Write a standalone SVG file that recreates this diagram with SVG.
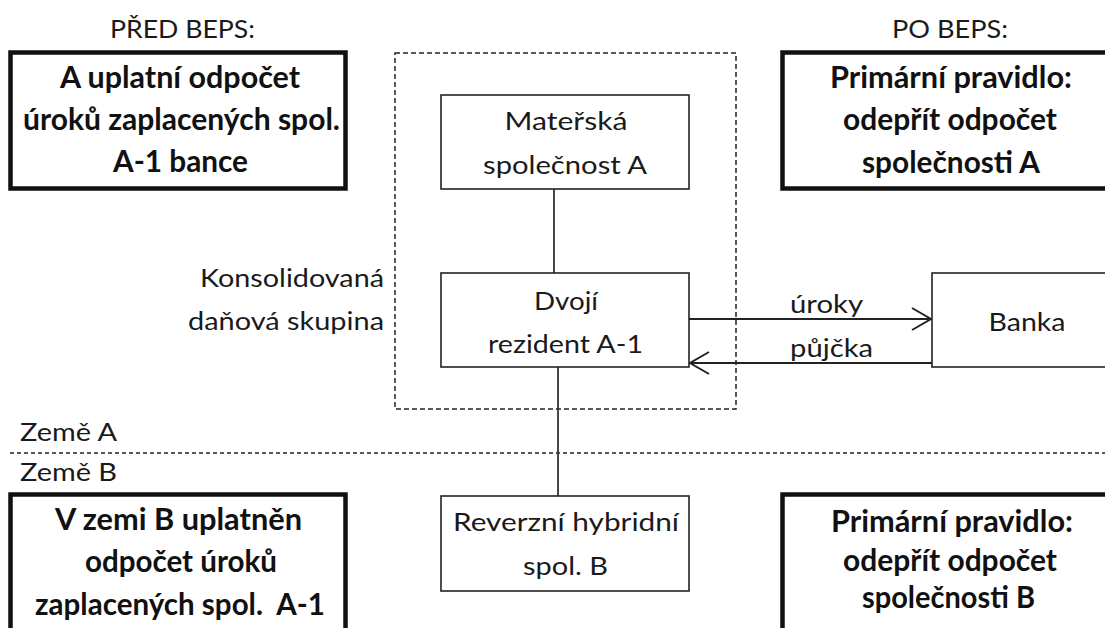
<svg xmlns="http://www.w3.org/2000/svg" width="1105" height="628" viewBox="0 0 1105 628">
  <style>
    .bg { fill: #ffffff; }
    .thick { fill: #ffffff; stroke: #111111; stroke-width: 4.5; }
    .box { fill: #ffffff; stroke: #222222; stroke-width: 1.6; }
    .group { fill: none; stroke: #222222; stroke-width: 1.5; stroke-dasharray: 5 3; }
    .border { fill: none; stroke: #222222; stroke-width: 1.5; stroke-dasharray: 4 3; }
    .link { fill: none; stroke: #333333; stroke-width: 1.8; }
    .arrow { fill: none; stroke: #222222; stroke-width: 1.8; }
    text { font-family: Lato, "Open Sans", "Liberation Sans", sans-serif; fill: #1a1a1a; }
    .r { font-size: 24.5px; font-weight: normal; }
    .b { font-size: 30px; font-weight: bold; fill: #111111; }
    .m { text-anchor: middle; }
    .e { text-anchor: end; }
  </style>
  <defs>
    <marker id="open" viewBox="-22 -14 25 28" refX="0" refY="0" markerWidth="25" markerHeight="28" markerUnits="userSpaceOnUse" orient="auto">
      <path d="M-19,-11 L0,0 L-19,11" fill="none" stroke="#222222" stroke-width="2"/>
    </marker>
  </defs>

  <rect class="bg" x="0" y="0" width="1105" height="628"/>

  <!-- column headings -->
  <text class="r m" x="182.5" y="38" textLength="145" lengthAdjust="spacingAndGlyphs">PŘED BEPS:</text>
  <text class="r m" x="950" y="38" textLength="116" lengthAdjust="spacingAndGlyphs">PO BEPS:</text>

  <!-- consolidated tax group frame -->
  <g id="consolidated-group">
    <rect class="group" x="395" y="53" width="341" height="356"/>
    <text class="r e" x="384" y="287" textLength="184" lengthAdjust="spacingAndGlyphs">Konsolidovaná</text>
    <text class="r e" x="384" y="330" textLength="196" lengthAdjust="spacingAndGlyphs">daňová skupina</text>
  </g>

  <!-- country border -->
  <g id="country-border">
    <line class="border" x1="10" y1="453" x2="1105" y2="453"/>
    <text class="r" x="20" y="441" textLength="97" lengthAdjust="spacingAndGlyphs">Země A</text>
    <text class="r" x="20" y="481" textLength="97" lengthAdjust="spacingAndGlyphs">Země B</text>
  </g>

  <!-- connectors -->
  <g id="connectors">
    <line class="link" x1="554" y1="189" x2="554" y2="273"/>
    <line class="link" x1="558" y1="367" x2="558" y2="496"/>
    <line class="arrow" x1="689" y1="319" x2="931" y2="319" marker-end="url(#open)"/>
    <line class="arrow" x1="932" y1="363" x2="690" y2="363" marker-end="url(#open)"/>
    <text class="r" x="790" y="313" textLength="73" lengthAdjust="spacingAndGlyphs">úroky</text>
    <text class="r" x="790" y="357" textLength="83" lengthAdjust="spacingAndGlyphs">půjčka</text>
  </g>

  <!-- before BEPS, country A -->
  <g id="before-a">
    <rect class="thick" x="10.5" y="52.5" width="335" height="136"/>
    <text class="b m" x="180" y="88" textLength="240" lengthAdjust="spacingAndGlyphs">A uplatní odpočet</text>
    <text class="b m" x="181.5" y="130" textLength="317" lengthAdjust="spacingAndGlyphs">úroků zaplacených spol.</text>
    <text class="b m" x="180.5" y="172" textLength="135" lengthAdjust="spacingAndGlyphs">A-1 bance</text>
  </g>

  <!-- after BEPS, country A -->
  <g id="after-a">
    <rect class="thick" x="782.5" y="52.5" width="340" height="136"/>
    <text class="b m" x="951" y="88" textLength="242" lengthAdjust="spacingAndGlyphs">Primární pravidlo:</text>
    <text class="b m" x="950" y="130" textLength="214" lengthAdjust="spacingAndGlyphs">odepřít odpočet</text>
    <text class="b m" x="951" y="173" textLength="178" lengthAdjust="spacingAndGlyphs">společnosti A</text>
  </g>

  <!-- parent company -->
  <g id="parent-a">
    <rect class="box" x="441" y="95" width="248" height="94"/>
    <text class="r m" x="566" y="130" textLength="123" lengthAdjust="spacingAndGlyphs">Mateřská</text>
    <text class="r m" x="565" y="174" textLength="164" lengthAdjust="spacingAndGlyphs">společnost A</text>
  </g>

  <!-- dual resident subsidiary -->
  <g id="dual-resident">
    <rect class="box" x="441" y="273" width="248" height="94"/>
    <text class="r m" x="566" y="310" textLength="64" lengthAdjust="spacingAndGlyphs">Dvojí</text>
    <text class="r m" x="565.5" y="353" textLength="155" lengthAdjust="spacingAndGlyphs">rezident A-1</text>
  </g>

  <!-- bank -->
  <g id="bank">
    <rect class="box" x="932" y="273" width="190" height="94"/>
    <text class="r m" x="1027" y="331" textLength="77" lengthAdjust="spacingAndGlyphs">Banka</text>
  </g>

  <!-- reverse hybrid, country B -->
  <g id="reverse-hybrid">
    <rect class="box" x="441" y="496" width="248" height="95"/>
    <text class="r m" x="566" y="531" textLength="226" lengthAdjust="spacingAndGlyphs">Reverzní hybridní</text>
    <text class="r m" x="565.5" y="575" textLength="85" lengthAdjust="spacingAndGlyphs">spol. B</text>
  </g>

  <!-- before BEPS, country B -->
  <g id="before-b">
    <rect class="thick" x="10.5" y="494.5" width="335" height="150"/>
    <text class="b m" x="178.5" y="530" textLength="247" lengthAdjust="spacingAndGlyphs">V zemi B uplatněn</text>
    <text class="b m" x="181" y="572" textLength="192" lengthAdjust="spacingAndGlyphs">odpočet úroků</text>
    <text class="b m" x="180" y="615" textLength="290" lengthAdjust="spacingAndGlyphs" xml:space="preserve">zaplacených spol.  A-1</text>
  </g>

  <!-- after BEPS, country B -->
  <g id="after-b">
    <rect class="thick" x="782.5" y="494.5" width="340" height="150"/>
    <text class="b m" x="952" y="532" textLength="242" lengthAdjust="spacingAndGlyphs">Primární pravidlo:</text>
    <text class="b m" x="950" y="571" textLength="214" lengthAdjust="spacingAndGlyphs">odepřít odpočet</text>
    <text class="b m" x="948.5" y="608" textLength="173" lengthAdjust="spacingAndGlyphs">společnosti B</text>
  </g>
</svg>
